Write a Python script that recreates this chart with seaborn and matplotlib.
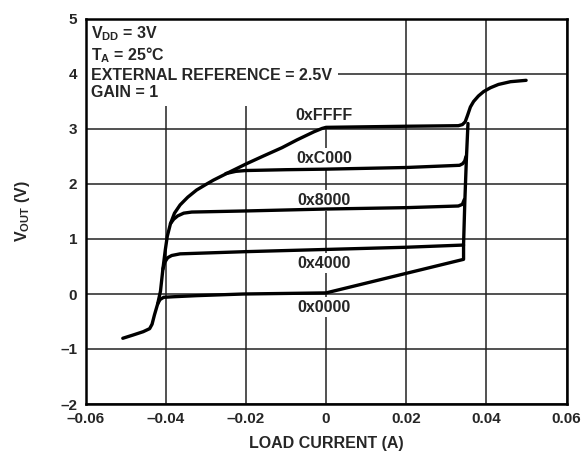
import matplotlib
matplotlib.use("Agg")
import matplotlib.pyplot as plt
import seaborn as sns

# ---- data ----
ffff_x = [-0.0507, -0.0481, -0.0456, -0.0440, -0.0434, -0.0428, -0.0420, -0.0413, -0.0407,
          -0.0401, -0.0396, -0.0388, -0.0378, -0.0364, -0.0345, -0.0323, -0.0300, -0.0281,
          -0.0240, -0.0198, -0.0156, -0.0110, -0.0073, -0.0030, -0.0010, 0.0000, 0.0100,
          0.0200, 0.0330, 0.0340, 0.0347, 0.0353, 0.0360, 0.0368, 0.0380, 0.0393, 0.0410,
          0.0430, 0.0460, 0.0499]
ffff_y = [-0.805, -0.745, -0.685, -0.63, -0.55, -0.38, -0.18, 0.05, 0.45,
          0.80, 1.05, 1.28, 1.47, 1.62, 1.76, 1.89, 1.99, 2.07,
          2.22, 2.37, 2.51, 2.66, 2.80, 2.95, 3.01, 3.03, 3.04,
          3.05, 3.06, 3.08, 3.13, 3.25, 3.40, 3.50, 3.60, 3.68, 3.75,
          3.81, 3.86, 3.885]

c000_x = [-0.0250, -0.0225, -0.0200, -0.0100, 0.0000, 0.0100, 0.0200, 0.0333, 0.0341, 0.0346, 0.0349]
c000_y = [2.19, 2.23, 2.245, 2.26, 2.27, 2.285, 2.30, 2.34, 2.37, 2.42, 2.50]

h8000_x = [-0.0388, -0.0380, -0.0370, -0.0355, -0.0335, -0.0200, 0.0000, 0.0200, 0.0330, 0.0340, 0.0345]
h8000_y = [1.28, 1.36, 1.42, 1.47, 1.49, 1.51, 1.545, 1.57, 1.60, 1.63, 1.72]

h4000_x = [-0.0407, -0.0402, -0.0395, -0.0385, -0.0364, -0.0200, 0.0000, 0.0200, 0.0343]
h4000_y = [0.45, 0.58, 0.66, 0.70, 0.73, 0.77, 0.81, 0.85, 0.89]

h0000_x = [-0.0420, -0.0414, -0.0405, -0.0381, -0.0323, -0.0206, 0.0000, 0.0343, 0.0343,
           0.0346, 0.0350, 0.0354]
h0000_y = [-0.18, -0.10, -0.06, -0.05, -0.03, 0.00, 0.02, 0.63, 0.90,
           1.65, 2.45, 3.10]

code_labels = ["0xFFFF", "0xC000", "0x8000", "0x4000", "0x0000"]
label_x = [-0.0005, -0.0005, -0.0005, -0.0005, -0.0005]
label_y = [3.24, 2.47, 1.70, 0.56, -0.24]

x_ticks = [-0.06, -0.04, -0.02, 0.0, 0.02, 0.04, 0.06]
x_tick_labels = ["\u20130.06", "\u20130.04", "\u20130.02", "0", "0.02", "0.04", "0.06"]
y_ticks = [-2, -1, 0, 1, 2, 3, 4, 5]
y_tick_labels = ["\u20132", "\u20131", "0", "1", "2", "3", "4", "5"]

# ---- style ----
sns.set_style("white")
plt.rcParams["font.family"] = ["Liberation Sans", "DejaVu Sans"]
plt.rcParams["font.weight"] = "bold"
plt.rcParams["mathtext.fontset"] = "custom"
plt.rcParams["mathtext.rm"] = "Liberation Sans:bold"
plt.rcParams["mathtext.it"] = "Liberation Sans:bold"
plt.rcParams["mathtext.bf"] = "Liberation Sans:bold"

fig = plt.figure(figsize=(5.85, 4.58), dpi=100)
ax = fig.add_axes([85.5 / 585, 1 - 404 / 458, (566.6 - 85.5) / 585, (404 - 19) / 458])

for xs, ys in [(ffff_x, ffff_y), (c000_x, c000_y), (h8000_x, h8000_y),
               (h4000_x, h4000_y), (h0000_x, h0000_y)]:
    sns.lineplot(x=xs, y=ys, sort=False, estimator=None, color="black",
                 linewidth=2.4, ax=ax, zorder=5)

ax.set_xlim(-0.06, 0.06)
ax.set_ylim(-2, 5)
ax.set_xticks(x_ticks)
ax.set_xticklabels(x_tick_labels, fontsize=11, fontweight="bold")
ax.set_yticks(y_ticks)
ax.set_yticklabels(y_tick_labels, fontsize=11, fontweight="bold")
ax.tick_params(length=0, pad=6)
ax.grid(True, color="#222222", linewidth=1.1)
ax.set_axisbelow(True)
for s in ax.spines.values():
    s.set_color("black")
    s.set_linewidth(1.8)
    s.set_zorder(6)

ax.set_xlabel("LOAD CURRENT (A)", fontsize=11.5, fontweight="bold", labelpad=7)
ax.set_ylabel(r"$\mathregular{V_{OUT}}$ (V)", fontsize=11.5, fontweight="bold", labelpad=20)

for name, lx, ly in zip(code_labels, label_x, label_y):
    ax.text(lx, ly, name, ha="center", va="center", fontsize=11.5, fontweight="bold",
            zorder=4, bbox=dict(facecolor="white", edgecolor="none", pad=2))

ax.text(0.012, 0.987,
        "$\\mathregular{V_{DD}}$ = 3V\n$\\mathregular{T_A}$ = 25°C\nEXTERNAL REFERENCE = 2.5V\nGAIN = 1",
        transform=ax.transAxes, ha="left", va="top", fontsize=11.5, fontweight="bold",
        linespacing=1.2, zorder=4,
        bbox=dict(facecolor="white", edgecolor="none", pad=4))

fig.savefig("out.png", dpi=100)
